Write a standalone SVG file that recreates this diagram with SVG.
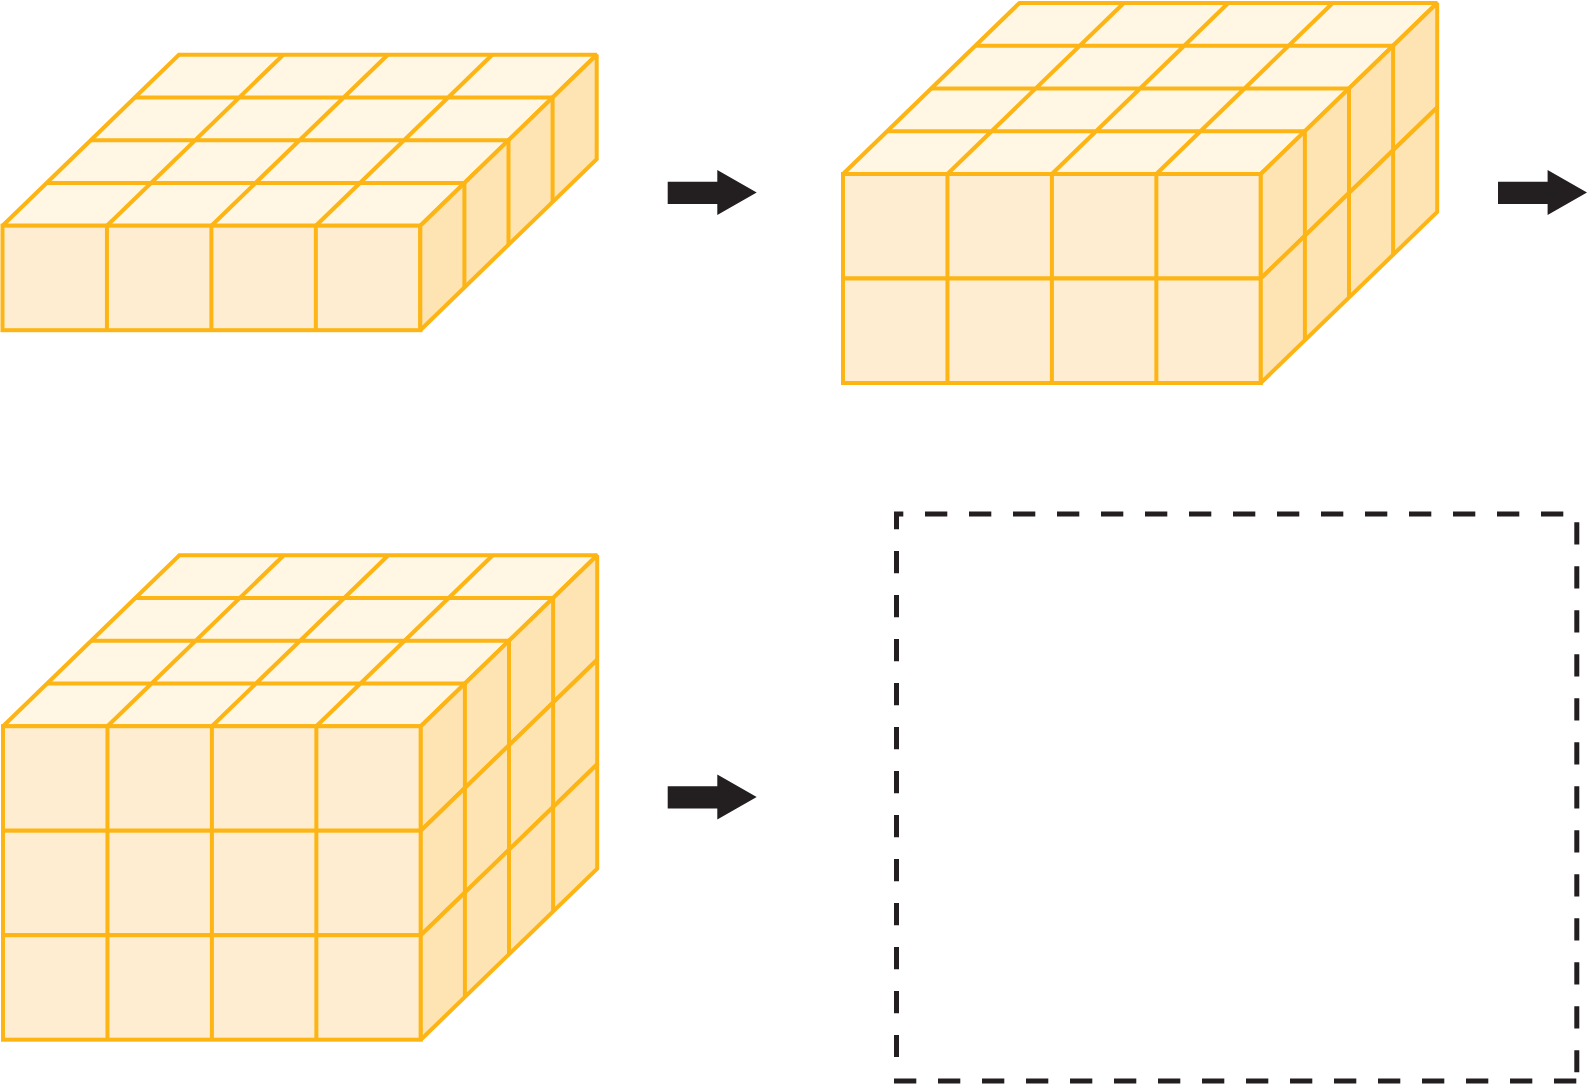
<svg xmlns="http://www.w3.org/2000/svg" width="1588" height="1084" viewBox="0 0 1588 1084">
<style>
.g{stroke:#fdb515;stroke-width:4;stroke-linejoin:miter;stroke-miterlimit:2;fill:none}
.t{fill:#fff6e3}.f{fill:#feedd0}.s{fill:#fee3b3}
.d{stroke:#231f20;stroke-width:5;fill:none;stroke-dasharray:22.3 21.7}
.c{stroke:#231f20;stroke-width:5;fill:none}
.a{fill:#231f20}
</style>
<defs>
<g id="top" class="g">
<polygon class="t" points="0,0 417.8,0 594.2,-171 176.4,-171"/>
<path d="M104.45 0L280.85 -171M208.9 0L385.3 -171M313.35 0L489.75 -171M44.1 -42.75H461.9M88.2 -85.5H506M132.3 -128.25H550.1"/>
</g>
<g id="layer" class="g">
<rect class="f" x="0" y="0" width="417.8" height="104.5"/>
<path d="M104.45 0V104.5M208.9 0V104.5M313.35 0V104.5"/>
<polygon class="s" points="417.8,0 594.2,-171 594.2,-66.5 417.8,104.5"/>
<path d="M461.9 -42.75V61.75M506 -85.5V19M550.1 -128.25V-23.75"/>
</g>
<polygon id="arrow" class="a" points="667.7,181.7 717.3,181.7 717.3,170 756.7,192.5 717.3,215 717.3,204 667.7,204"/>
</defs>
<g id="stack-1" transform="translate(2.5 225.7)">
<use href="#top"/><use href="#layer"/>
</g>
<g id="stack-2" transform="translate(843 174)">
<use href="#top"/><use href="#layer"/><use href="#layer" y="104.5"/>
</g>
<g id="stack-3" transform="translate(3 726.2)">
<use href="#top"/><use href="#layer"/><use href="#layer" y="104.5"/><use href="#layer" y="209"/>
</g>
<g id="connectors">
<use href="#arrow"/>
<use href="#arrow" x="830.3"/>
<use href="#arrow" y="604.6"/>
</g>
<g id="answer-box">
<path class="c" d="M896.5 529.3V514H903.3"/>
<path class="d" d="M925 514H1563.3"/>
<path class="d" d="M896.5 551V1057"/>
<path class="d" d="M894 1081H1576.7"/>
<path class="d" d="M1576.8 522.3V1072.3"/>
</g>
</svg>
